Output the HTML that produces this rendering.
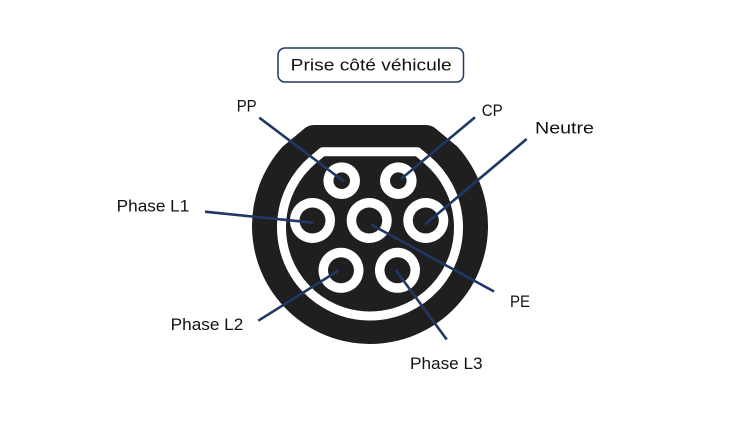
<!DOCTYPE html>
<html>
<head>
<meta charset="utf-8">
<style>
  html, body { margin: 0; padding: 0; background: #ffffff; }
  svg { display: block; }
  text { font-family: "Liberation Sans", "DejaVu Sans", sans-serif; font-size: 17px; fill: #111111; }
</style>
</head>
<body>
<svg width="733" height="430" viewBox="0 0 733 430" xmlns="http://www.w3.org/2000/svg">
  <rect x="0" y="0" width="733" height="430" fill="#ffffff"/>

  <!-- Title box -->
  <rect x="278" y="48" width="185.5" height="34" rx="7" ry="7" fill="#ffffff" stroke="#1f3864" stroke-width="1.5"/>
  <text x="290.7" y="70.7" textLength="161" lengthAdjust="spacingAndGlyphs">Prise côté véhicule</text>

  <!-- Outer black body -->
  <path d="M 314 125 L 426 125 Q 431 125 435 128 L 457.5 146.8 A 118 118 0 1 1 282.5 146.8 L 305 128 Q 309 125 314 125 Z" fill="#1f1f1f"/>

  <!-- White inner band -->
  <path d="M 322.5 151.8 L 417.5 151.8 L 426.9 159.7 A 88.5 88.5 0 1 1 313.1 159.7 Z" fill="none" stroke="#ffffff" stroke-width="9" stroke-linejoin="round"/>

  <!-- Pins -->
  <g fill="#ffffff">
    <circle cx="341.7" cy="180.7" r="18.3"/>
    <circle cx="398.3" cy="180.7" r="18.3"/>
    <circle cx="312.5" cy="220.5" r="22.5"/>
    <circle cx="369.2" cy="220.5" r="22.5"/>
    <circle cx="425.8" cy="220.5" r="22.5"/>
    <circle cx="341" cy="270.3" r="22.5"/>
    <circle cx="397.5" cy="270.3" r="22.5"/>
  </g>
  <g fill="#1f1f1f">
    <circle cx="341.7" cy="180.7" r="8.3"/>
    <circle cx="398.3" cy="180.7" r="8.3"/>
    <circle cx="312.5" cy="220.5" r="13"/>
    <circle cx="369.2" cy="220.5" r="13"/>
    <circle cx="425.8" cy="220.5" r="13"/>
    <circle cx="341" cy="270.3" r="13"/>
    <circle cx="397.5" cy="270.3" r="13"/>
  </g>

  <!-- Connector lines -->
  <g stroke="#1f3864" stroke-width="2.6" stroke-linecap="butt" fill="none">
    <line x1="259.3" y1="117.7" x2="344" y2="181.5"/>
    <line x1="475" y1="117.3" x2="401" y2="179"/>
    <line x1="526.7" y1="139" x2="425" y2="224.5"/>
    <line x1="205" y1="211.7" x2="313" y2="222.7"/>
    <line x1="371" y1="224.5" x2="494" y2="291.5"/>
    <line x1="258.3" y1="320.7" x2="338.5" y2="270.5"/>
    <line x1="395.7" y1="270" x2="446.7" y2="339.5"/>
  </g>

  <!-- Labels -->
  <text x="236.7" y="111.7" textLength="20" lengthAdjust="spacingAndGlyphs">PP</text>
  <text x="481.7" y="116" textLength="21" lengthAdjust="spacingAndGlyphs">CP</text>
  <text x="535" y="133.3" textLength="59" lengthAdjust="spacingAndGlyphs">Neutre</text>
  <text x="116.7" y="211.7" textLength="72.6" lengthAdjust="spacingAndGlyphs">Phase L1</text>
  <text x="510" y="307" textLength="20" lengthAdjust="spacingAndGlyphs">PE</text>
  <text x="170.7" y="330" textLength="72.6" lengthAdjust="spacingAndGlyphs">Phase L2</text>
  <text x="410" y="369" textLength="72.6" lengthAdjust="spacingAndGlyphs">Phase L3</text>
</svg>
</body>
</html>
